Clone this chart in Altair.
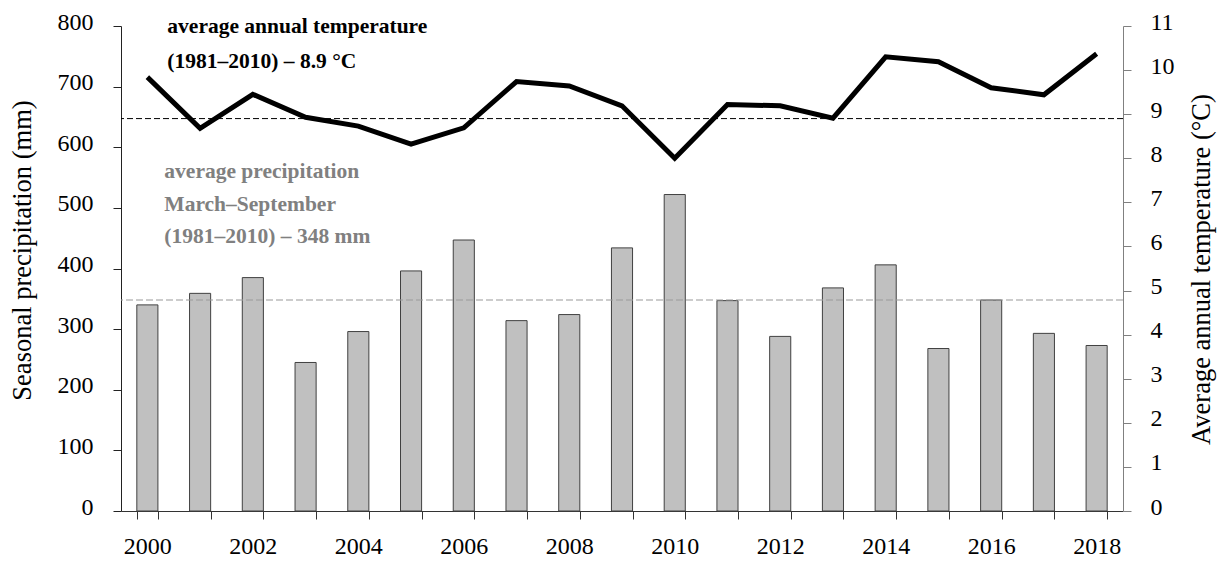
import altair as alt
import pandas as pd

# Seasonal precipitation (March–September, mm) and average annual temperature (°C)
years = list(range(2000, 2019))
precip_mm = [340, 359, 385, 245, 296, 396, 447, 314, 324, 434,
             522, 347, 288, 368, 406, 268, 348, 293, 273]
temp_c = [9.84, 8.68, 9.45, 8.93, 8.73, 8.32, 8.69, 9.74, 9.64, 9.19,
          8.00, 9.22, 9.19, 8.91, 10.30, 10.19, 9.60, 9.44, 10.37]

# Long-term (1981–2010) reference values
precip_normal = 348
temp_normal = 8.9

# Annotation lines and their heights on the precipitation scale
temp_notes = ["average annual temperature", "(1981–2010) – 8.9 °C"]
temp_note_y = [798, 741]
precip_notes = ["average precipitation", "March–September", "(1981–2010) – 348 mm"]
precip_note_y = [559, 505, 452]

FONT = "Liberation Serif"

df = pd.DataFrame({"year": years, "mm": precip_mm, "temp": temp_c})
black_notes = pd.DataFrame({"year": [years[0]] * len(temp_notes), "mm": temp_note_y, "txt": temp_notes})
gray_notes = pd.DataFrame({"year": [years[0]] * len(precip_notes), "mm": precip_note_y, "txt": precip_notes})

x_enc = alt.X(
    "year:O",
    scale=alt.Scale(paddingInner=0.6, paddingOuter=0.3),
    axis=alt.Axis(
        title=None, labelAngle=0, tickBand="extent",
        labelExpr="datum.value % 2 == 0 ? datum.label : ''",
        labelPadding=15, tickSize=8, tickColor="#333", domainColor="#333",
    ),
)

bars = alt.Chart(df).mark_bar(fill="#c0c0c0", stroke="#404040", strokeWidth=1).encode(
    x=x_enc,
    y=alt.Y(
        "mm:Q",
        scale=alt.Scale(domain=[0, 800], nice=False),
        axis=alt.Axis(
            title="Seasonal precipitation (mm)", values=list(range(0, 801, 100)),
            labelPadding=20, labelOffset=-4, tickSize=8, tickColor="#222", domainColor="#222",
            titleX=-99, titleY=224, titleBaseline="middle", titleAngle=270,
        ),
    ),
)

precip_rule = alt.Chart(pd.DataFrame({"mm": [precip_normal]})).mark_rule(
    color="#999999", strokeWidth=1.2, strokeDash=[7, 3]
).encode(y="mm:Q")

black_text = alt.Chart(black_notes).mark_text(
    align="left", baseline="middle", dx=20, font=FONT, fontSize=21.5, fontWeight="bold", color="black"
).encode(x="year:O", y="mm:Q", text="txt:N")

gray_text = alt.Chart(gray_notes).mark_text(
    align="left", baseline="middle", dx=17, font=FONT, fontSize=21.5, fontWeight="bold", color="#808080"
).encode(x="year:O", y="mm:Q", text="txt:N")

left = alt.layer(bars, precip_rule, gray_text, black_text)

temp_line = alt.Chart(df).mark_line(color="black", strokeWidth=5, strokeJoin="miter").encode(
    x="year:O",
    y=alt.Y(
        "temp:Q",
        scale=alt.Scale(domain=[0, 11], nice=False),
        axis=alt.Axis(
            orient="right", title="Average annual temperature (°C)", values=list(range(0, 12)),
            labelPadding=19, labelOffset=-4, tickSize=8, tickColor="#808080", domainColor="#808080",
            titleX=78, titleY=243, titleBaseline="middle", titleAngle=270,
        ),
    ),
)

temp_rule = alt.Chart(pd.DataFrame({"temp": [temp_normal]})).mark_rule(
    color="black", strokeWidth=1, strokeDash=[6, 3]
).encode(y="temp:Q")

right = alt.layer(temp_line, temp_rule)

chart = (
    alt.layer(left, right)
    .resolve_scale(y="independent")
    .properties(
        width=1002, height=485,
        autosize=alt.AutoSizeParams(type="none"),
        padding={"left": 121, "top": 26, "right": 95, "bottom": 50},
        background="white",
    )
    .configure_view(stroke=None)
    .configure_axis(
        labelFont=FONT, labelFontSize=24, labelColor="black",
        titleFont=FONT, titleFontSize=26.5, titleFontWeight="normal", titleColor="black",
        grid=False,
    )
)

chart.save("out.html", embed_options={"renderer": "svg", "actions": False})
